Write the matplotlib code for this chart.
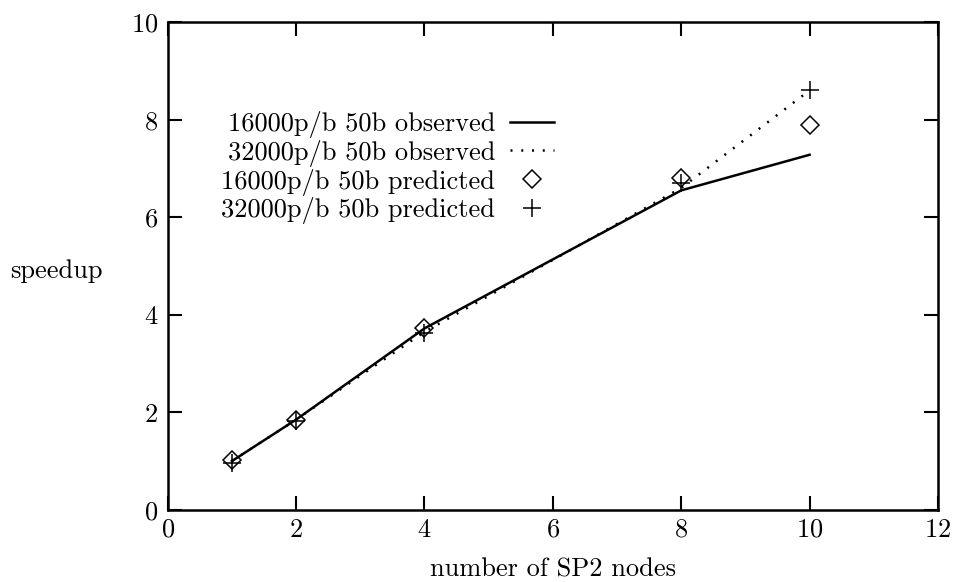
import matplotlib
matplotlib.use("Agg")
import matplotlib.pyplot as plt

# node counts
nodes = [1, 2, 4, 8, 10]

# observed / predicted speedups
obs_16000 = [1.0, 1.85, 3.72, 6.55, 7.28]
obs_32000 = [1.0, 1.85, 3.65, 6.6, 8.6]
pred_16000 = [1.02, 1.85, 3.72, 6.8, 7.9]
pred_32000 = [0.97, 1.82, 3.62, 6.7, 8.6]

labels = ["16000p/b 50b observed", "32000p/b 50b observed",
          "16000p/b 50b predicted", "32000p/b 50b predicted"]

plt.rcParams['font.family'] = ['cmr10', 'DejaVu Serif']
plt.rcParams['mathtext.fontset'] = 'cm'
plt.rcParams['axes.formatter.use_mathtext'] = True

fs = 19
fig = plt.figure(figsize=(9.64, 5.82), dpi=100)
ax = fig.add_axes([0.174, 0.124, 0.799, 0.838])

ax.plot(nodes, obs_16000, color='black', lw=1.8, label=labels[0])
ax.plot(nodes, obs_32000, color='black', lw=1.8, linestyle=(0, (0.8, 3.5)),
        label=labels[1])
ax.plot(nodes, pred_16000, linestyle='none', marker='D', markersize=9,
        markerfacecolor='none', markeredgecolor='black', markeredgewidth=1.1,
        label=labels[2])
ax.plot(nodes, pred_32000, linestyle='none', marker='+', markersize=13,
        markeredgecolor='black', markeredgewidth=1.1, label=labels[3])

ax.set_xlim(0, 12)
ax.set_ylim(0, 10)
ax.set_xticks(range(0, 13, 2))
ax.set_yticks(range(0, 11, 2))
ax.tick_params(direction='in', length=10, width=1.5, top=True, right=True,
               labelsize=fs)
ax.tick_params(axis='x', pad=6)
ax.tick_params(axis='y', pad=7)
for s in ax.spines.values():
    s.set_linewidth(1.8)

ax.set_xlabel("number of SP2 nodes", fontsize=fs, va='center')
ax.xaxis.set_label_coords(0.5, -0.123)
ax.set_ylabel("speedup", fontsize=fs, rotation=0, ha='left', va='center')
ax.yaxis.set_label_coords(-0.205, 0.49)

leg = ax.legend(loc='upper right', bbox_to_anchor=(0.501, 0.818),
                markerfirst=False, frameon=False, fontsize=fs,
                borderpad=0, borderaxespad=0, handlelength=1.65,
                handletextpad=0.57, labelspacing=0.07)

fig.savefig("out.png", dpi=100)
